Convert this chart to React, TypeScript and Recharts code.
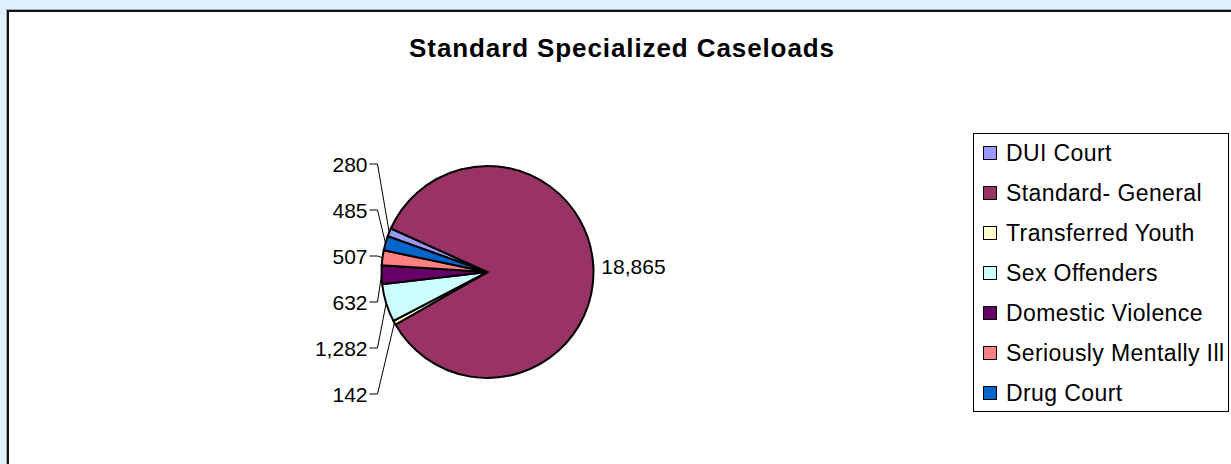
import React from 'react';
import { PieChart, Pie, Cell, Legend } from 'recharts';

const categories = [
  'DUI Court',
  'Standard- General',
  'Transferred Youth',
  'Sex Offenders',
  'Domestic Violence',
  'Seriously Mentally Ill',
  'Drug Court',
];
const caseloads = [280, 18865, 142, 1282, 632, 507, 485];
const sliceColors = ['#9999FF', '#993366', '#FFFFCC', '#CCFFFF', '#660066', '#FF8080', '#0066CC'];
const chartTitle = 'Standard Specialized Caseloads';

const data = categories.map((name, i) => ({ name, value: caseloads[i] }));

const START_ANGLE = 160.3;
const CX = 487.5;
const CY = 272;
const R = 106;
const RAD = Math.PI / 180;

// derived mid angles (same way the library lays them out) for label layout
const total = caseloads.reduce((a, b) => a + b, 0);
const mids: number[] = [];
{
  let a = START_ANGLE;
  caseloads.forEach((v) => {
    const span = (v / total) * 360;
    mids.push(a - span / 2);
    a -= span;
  });
}
const leftIdx = mids
  .map((m, i) => ({ m, i }))
  .filter((d) => Math.cos(d.m * RAD) < 0)
  .sort((a, b) => -Math.sin(a.m * RAD) - -Math.sin(b.m * RAD))
  .map((d) => d.i);

const fmt = (v: number) => v.toLocaleString('en-US');

const renderLabel = (props: any) => {
  const { cx, cy, midAngle, outerRadius, index, value } = props;
  const cos = Math.cos(midAngle * RAD);
  const sin = Math.sin(midAngle * RAD);
  const px = cx + outerRadius * cos;
  const py = cy - outerRadius * sin;
  const fontStyle = { fontFamily: 'Liberation Sans, Arial, sans-serif', fontSize: 21, fill: '#000' };
  if (cos >= 0) {
    return (
      <text
        key={`l${index}`}
        x={cx + (outerRadius + 8) * cos}
        y={cy - (outerRadius + 8) * sin}
        textAnchor="start"
        dominantBaseline="central"
        style={fontStyle}
      >
        {fmt(value)}
      </text>
    );
  }
  const rank = leftIdx.indexOf(index);
  const n = leftIdx.length;
  const ly = cy + 7 + (rank - (n - 1) / 2) * 46;
  const tickEnd = cx - outerRadius - 4;
  const textEnd = tickEnd - 10;
  return (
    <g key={`l${index}`}>
      <polyline
        points={`${tickEnd - 8},${ly} ${tickEnd},${ly} ${px},${py}`}
        fill="none"
        stroke="#000"
        strokeWidth={1}
      />
      <text x={textEnd} y={ly} textAnchor="end" dominantBaseline="central" style={fontStyle}>
        {fmt(value)}
      </text>
    </g>
  );
};

const renderLegend = () => {
  return (
    <div
      style={{
        width: 256,
        height: 279,
        boxSizing: 'border-box',
        border: '1px solid #000',
        background: '#fff',
      }}
    >
      {categories.map((name, i) => (
        <div
          key={name}
          style={{
            height: 40,
            display: 'flex',
            alignItems: 'center',
            marginTop: i === 0 ? -1 : 0,
          }}
        >
          <span
            style={{
              display: 'inline-block',
              width: 12,
              height: 12,
              border: '1px solid #000',
              background: sliceColors[i],
              marginLeft: 9,
              marginRight: 9,
              flexShrink: 0,
            }}
          />
          <span
            style={{
              fontFamily: 'Liberation Sans, Arial, sans-serif',
              fontSize: 23,
              letterSpacing: 0.4,
              color: '#000',
              whiteSpace: 'nowrap',
            }}
          >
            {name}
          </span>
        </div>
      ))}
    </div>
  );
};

export default function App() {
  return (
    <div
      style={{
        position: 'fixed',
        left: 0,
        top: 0,
        width: 1231,
        height: 464,
        background: '#E0F0FE',
        overflow: 'hidden',
      }}
    >
      <div
        style={{
          position: 'absolute',
          left: 6,
          top: 9,
          width: 1240,
          height: 470,
          boxSizing: 'border-box',
          borderTop: '1px solid #9aa',
          borderLeft: '1px solid #9aa',
        }}
      />
      <div
        style={{
          position: 'absolute',
          left: 7,
          top: 10,
          width: 1240,
          height: 470,
          boxSizing: 'border-box',
          border: '2px solid #111',
          background: '#fff',
        }}
      />
      <div
        style={{
          position: 'absolute',
          left: 0,
          top: 35,
          width: 1244,
          textAlign: 'center',
          fontFamily: 'Liberation Sans, Arial, sans-serif',
          fontWeight: 'bold',
          fontSize: 26,
          lineHeight: '26px',
          letterSpacing: 0.9,
          color: '#000',
        }}
      >
        {chartTitle}
      </div>
      <div style={{ position: 'absolute', left: 0, top: 0 }}>
        <PieChart width={1231} height={464} margin={{ top: 0, right: 0, bottom: 0, left: 0 }}>
          <Pie
            data={data}
            dataKey="value"
            nameKey="name"
            cx={CX}
            cy={CY}
            outerRadius={R}
            startAngle={START_ANGLE}
            endAngle={START_ANGLE - 360}
            stroke="#000"
            strokeWidth={2}
            label={renderLabel}
            labelLine={false}
            isAnimationActive={false}
          >
            {data.map((d, i) => (
              <Cell key={d.name} fill={sliceColors[i]} />
            ))}
          </Pie>
          <Legend
            layout="vertical"
            align="right"
            verticalAlign="top"
            content={renderLegend}
            wrapperStyle={{ position: 'absolute', left: 973, top: 133, width: 256, height: 279 }}
          />
        </PieChart>
      </div>
    </div>
  );
}
